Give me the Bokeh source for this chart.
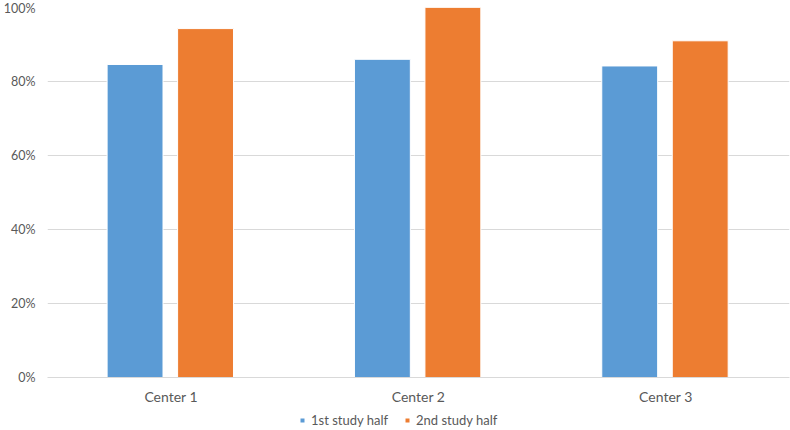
from bokeh.plotting import figure
from bokeh.layouts import column
from bokeh.models import (ColumnDataSource, FactorRange, Range1d, NumeralTickFormatter,
                          FixedTicker, Legend, LegendItem)
from bokeh.transform import dodge
from bokeh.embed import file_html
from bokeh.resources import INLINE

centers = ["Center 1", "Center 2", "Center 3"]
first_half = [0.846, 0.860, 0.842]
second_half = [0.943, 1.000, 0.910]
y_ticks = [0, 0.2, 0.4, 0.6, 0.8, 1.0]
series_names = ["1st study half", "2nd study half"]

BLUE = "#5B9BD5"
ORANGE = "#ED7D31"
TEXT = "#595959"
GRID = "#D9D9D9"
FONT = "Lato"

source = ColumnDataSource(dict(center=centers, first=first_half, second=second_half))

# Main bar chart
p = figure(width=790, height=407, x_range=FactorRange(*centers, range_padding=0),
           y_range=Range1d(0, 1.0), output_backend="svg", toolbar_location=None,
           min_border_left=45, min_border_right=1, min_border_top=7, min_border_bottom=4)
p.outline_line_color = None

p.vbar(x=dodge("center", -0.146, range=p.x_range), top="first", width=0.226,
       source=source, fill_color=BLUE, line_color="white", line_width=1)
p.vbar(x=dodge("center", 0.139, range=p.x_range), top="second", width=0.226,
       source=source, fill_color=ORANGE, line_color="white", line_width=1)

p.xgrid.grid_line_color = None
p.ygrid.grid_line_color = GRID
p.ygrid.grid_line_width = 1

p.yaxis.ticker = FixedTicker(ticks=y_ticks)
p.yaxis.formatter = NumeralTickFormatter(format="0%")
p.yaxis.axis_line_color = None
p.yaxis.major_tick_line_color = None
p.yaxis.minor_tick_line_color = None
p.yaxis.major_tick_out = 0
p.yaxis.major_tick_in = 0
p.yaxis.major_label_text_color = TEXT
p.yaxis.major_label_text_font = FONT
p.yaxis.major_label_text_font_size = "12.5px"
p.yaxis.major_label_standoff = 12

p.xaxis.axis_line_color = GRID
p.xaxis.major_tick_line_color = None
p.xaxis.minor_tick_line_color = None
p.xaxis.major_tick_out = 0
p.xaxis.major_tick_in = 0
p.xaxis.major_label_text_color = TEXT
p.xaxis.major_label_text_font = FONT
p.xaxis.major_label_text_font_size = "14px"
p.xaxis.major_label_standoff = 10

# Legend strip below the chart; its swatch renderers sit outside the visible range
leg = figure(width=790, height=23, x_range=Range1d(0, 1), y_range=Range1d(0, 1),
             output_backend="svg", toolbar_location=None,
             min_border=0, min_border_left=0, min_border_right=0,
             min_border_top=0, min_border_bottom=0)
leg.axis.visible = False
leg.grid.visible = False
leg.outline_line_color = None
swatch = ColumnDataSource(dict(x=[-10], y=[-10]))
g1 = leg.scatter(x="x", y="y", marker="square", size=8, source=swatch,
                 fill_color=BLUE, line_color=None)
g2 = leg.scatter(x="x", y="y", marker="square", size=8, source=swatch,
                 fill_color=ORANGE, line_color=None)

legend = Legend(items=[LegendItem(label=series_names[0], renderers=[g1]),
                       LegendItem(label=series_names[1], renderers=[g2])],
                orientation="horizontal", location=(250, 2),
                glyph_width=10, glyph_height=10, spacing=14, padding=0, margin=0,
                label_text_font=FONT, label_text_font_size="13px",
                label_text_color=TEXT, label_standoff=4, border_line_color=None,
                background_fill_alpha=0)
leg.add_layout(legend)

layout = column(p, leg, spacing=0)
open("out.html", "w").write(file_html(layout, INLINE))
